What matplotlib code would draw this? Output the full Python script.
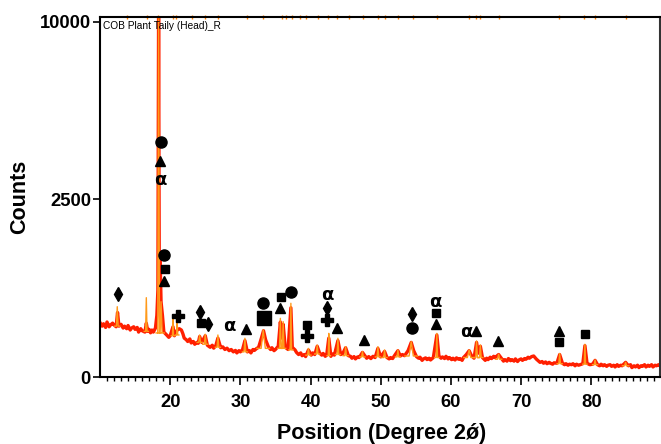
import matplotlib
matplotlib.use("Agg")
import matplotlib.pyplot as plt
import numpy as np

plt.rcParams["font.family"] = ["Liberation Sans", "DejaVu Sans"]

# measured pattern (2theta, counts)
two_theta = [
    10.0, 10.3, 10.5, 10.8, 11.0, 11.3, 11.5, 11.8, 12.0, 12.3, 12.5, 12.7,
    13.0, 13.3, 13.5, 13.8, 14.0, 14.3, 14.5, 14.8, 15.0, 15.3, 15.5, 15.8,
    16.0, 16.4, 16.6, 16.8, 17.0, 17.2, 17.4, 17.6, 17.9, 18.1, 18.25, 18.35,
    18.45, 18.55, 18.7, 18.9, 19.1, 19.3, 19.5, 19.8, 20.0, 20.4, 20.6, 21.0,
    21.3, 21.6, 21.8, 22.0, 22.3, 22.5, 22.8, 23.0, 23.3, 23.5, 23.8, 24.0,
    24.2, 24.5, 25.0, 25.3, 25.7, 26.0, 26.2, 26.5, 26.8, 27.2, 27.5, 27.8,
    28.1, 28.4, 28.7, 29.0, 29.3, 29.5, 29.8, 30.0, 30.3, 30.65, 31.0, 31.3,
    31.5, 31.8, 32.0, 32.3, 32.6, 33.0, 33.3, 33.6, 34.0, 34.3, 34.5, 34.8,
    35.0, 35.4, 35.7, 35.9, 36.1, 36.4, 36.8, 37.2, 37.4, 37.8, 38.0, 38.3,
    38.6, 38.8, 39.1, 39.3, 39.7, 40.1, 40.3, 40.6, 40.95, 41.3, 41.6, 41.8,
    42.1, 42.3, 42.6, 42.9, 43.1, 43.4, 43.9, 44.3, 44.6, 45.0, 45.4, 45.7,
    45.9, 46.2, 46.4, 46.7, 46.9, 47.1, 47.4, 47.8, 48.0, 48.3, 48.6, 48.9,
    49.2, 49.6, 50.0, 50.55, 50.9, 51.2, 51.4, 51.7, 51.9, 52.45, 52.8, 53.1,
    53.4, 53.9, 54.35, 54.7, 55.1, 55.4, 55.6, 55.9, 56.1, 56.4, 56.6, 56.9,
    57.1, 57.5, 58.0, 58.3, 58.6, 58.8, 59.1, 59.3, 59.6, 59.8, 60.1, 60.3,
    60.6, 60.8, 61.1, 61.3, 61.6, 61.8, 62.2, 62.6, 62.9, 63.3, 63.66, 63.9,
    64.2, 64.5, 64.9, 65.1, 65.3, 65.6, 65.8, 66.1, 66.3, 66.8, 67.2, 67.5,
    67.7, 68.0, 68.2, 68.5, 68.7, 69.0, 69.2, 69.5, 69.7, 70.0, 70.2, 70.5,
    70.7, 71.0, 71.2, 71.5, 71.8, 72.2, 72.5, 72.7, 73.0, 73.2, 73.5, 73.7,
    74.0, 74.2, 74.5, 74.7, 75.1, 75.5, 75.9, 76.2, 76.4, 76.7, 76.9, 77.2,
    77.4, 77.7, 77.9, 78.2, 78.4, 78.8, 79.1, 79.4, 79.8, 80.2, 80.55, 80.9,
    81.2, 81.4, 81.7, 81.9, 82.2, 82.4, 82.7, 82.9, 83.2, 83.4, 83.7, 83.9,
    84.2, 84.4, 84.9, 85.3, 85.6, 85.8, 86.1, 86.3, 86.6, 86.8, 87.1, 87.3,
    87.6, 87.8, 88.1, 88.3, 88.6, 88.8, 89.1, 89.3, 89.6, 89.8,
]
counts = [
    235, 205, 225, 195, 240, 200, 215, 230, 215, 200, 330, 205,
    220, 190, 205, 185, 210, 175, 190, 200, 180, 195, 160, 185,
    170, 160, 230, 165, 180, 155, 175, 160, 190, 300, 600, 11000,
    700, 1200, 450, 300, 160, 150, 140, 125, 135, 200, 135, 175,
    185, 175, 150, 120, 110, 100, 115, 92, 100, 85, 95, 90,
    130, 95, 135, 80, 70, 80, 66, 78, 120, 68, 72, 60,
    66, 55, 60, 50, 56, 46, 55, 50, 58, 105, 50, 55,
    46, 60, 56, 64, 70, 120, 170, 110, 72, 60, 68, 55,
    60, 75, 240, 120, 220, 70, 60, 380, 70, 58, 48, 40,
    46, 36, 40, 33, 58, 38, 46, 40, 75, 45, 38, 44,
    34, 38, 120, 34, 42, 38, 105, 40, 44, 68, 36, 34,
    28, 33, 26, 32, 30, 36, 48, 34, 28, 33, 27, 34,
    30, 65, 32, 52, 30, 26, 30, 27, 34, 55, 35, 40,
    36, 55, 95, 55, 33, 28, 31, 22, 26, 29, 24, 28,
    23, 30, 140, 35, 28, 32, 27, 34, 26, 30, 24, 28,
    23, 29, 25, 27, 22, 30, 40, 55, 38, 28, 95, 45,
    75, 30, 22, 28, 24, 31, 27, 34, 30, 40, 28, 20,
    24, 20, 27, 21, 24, 20, 26, 19, 23, 26, 22, 27,
    25, 31, 28, 33, 35, 25, 20, 17, 19, 15, 18, 14,
    17, 15, 13, 16, 15, 40, 15, 12, 14, 11, 13, 12,
    14, 10, 13, 11, 12, 14, 78, 15, 12, 13, 22, 12,
    10, 13, 10, 12, 9, 11, 12, 9, 11, 8, 12, 9,
    11, 10, 17, 10, 12, 7, 10, 8, 11, 7, 10, 9,
    12, 8, 11, 9, 12, 8, 11, 10, 12, 10,
]

# fitted peak profile (orange)
peak_pos = [12.46, 16.6, 18.35, 18.7, 20.4, 21.0, 24.2, 25.0, 26.8, 30.65,
            33.26, 35.7, 36.1, 37.2, 39.7, 40.95, 42.6, 43.9, 45.0, 47.4,
            49.6, 50.55, 52.45, 54.35, 58.0, 62.6, 63.66, 64.2, 66.8, 75.5,
            79.1, 80.55, 84.9]
peak_top = [392, 499, 11000, 450, 288, 231, 140, 145, 140, 119,
            175, 273, 243, 431, 65, 81, 151, 119, 73, 51,
            73, 58, 58, 99, 151, 58, 103, 81, 41, 44,
            85, 23, 17]
peak_base = [205, 165, 154, 154, 135, 140, 95, 85, 70, 50,
             65, 65, 65, 58, 38, 42, 36, 40, 36, 32,
             32, 30, 32, 35, 30, 30, 30, 30, 25, 14,
             13, 12, 10]
peak_width = [0.12, 0.1, 0.12, 0.15, 0.08, 0.08, 0.12, 0.12, 0.12, 0.12,
              0.3, 0.12, 0.12, 0.1, 0.12, 0.12, 0.08, 0.12, 0.12, 0.12,
              0.12, 0.12, 0.12, 0.3, 0.1, 0.25, 0.12, 0.12, 0.15, 0.12,
              0.1, 0.12, 0.15]

# reference line positions on top axis
ref_ticks = [13.8, 16.65, 18.26, 20.4, 20.9, 23.06, 24.96, 26.8, 30.9, 33.2,
             36.0, 36.5, 37.3, 38.5, 39.4, 41.05, 42.5, 43.8, 45.5, 47.5,
             49.6, 50.6, 52.4, 54.6, 58.05, 62.6, 63.6, 64.2, 66.9, 75.4,
             79.0, 80.6, 85.0]

# phase symbols (marker, 2theta, counts)
phase_marks = [
    ("o", 18.65, 4393), ("^", 18.55, 3712),
    ("o", 19.12, 1175), ("s", 19.26, 920), ("^", 19.16, 736),
    ("d", 12.52, 543), ("P", 21.16, 292),
    ("d", 24.25, 335), ("s", 24.39, 234), ("d", 25.43, 220),
    ("^", 30.8, 185),
    ("o", 33.18, 431), ("S", 33.4, 279),
    ("s", 35.78, 508), ("^", 35.64, 378), ("o", 37.17, 573),
    ("s", 39.44, 217), ("P", 39.44, 131),
    ("d", 42.38, 374), ("P", 42.38, 258), ("^", 43.8, 193),
    ("^", 47.6, 109),
    ("d", 54.4, 312), ("o", 54.49, 188),
    ("s", 57.86, 328), ("^", 57.82, 220),
    ("^", 63.56, 168), ("^", 66.65, 103),
    ("^", 75.38, 170), ("s", 75.47, 97), ("s", 79.09, 147),
]
alpha_marks = [(18.55, 3079), (28.42, 204), (42.38, 534), (57.82, 450), (62.24, 159)]

marker_size = {"o": 8, "^": 7.5, "s": 5.5, "S": 9.5, "d": 7.5, "P": 8}

red = "#ff1f00"
orange = "#ff9a1a"


def sqrt_fwd(v):
    return np.sqrt(np.clip(v, 0, None))


def sqrt_inv(v):
    return np.asarray(v) ** 2


fig = plt.figure(figsize=(6.61, 4.44), dpi=100)
ax = fig.add_axes([100 / 661, 1 - 377 / 444, 560 / 661, 360 / 444])
ax.set_yscale("function", functions=(sqrt_fwd, sqrt_inv))

ax.plot(two_theta, counts, color=red, lw=2.4, solid_joinstyle="round")

# orange profile: one small triangle with flat feet per peak
ox, oy = [], []
for p, t, b, w in zip(peak_pos, peak_top, peak_base, peak_width):
    ox += [p - 3 * w, p - w, p, p + w, p + 3 * w, np.nan]
    oy += [b, b, t, b, b, np.nan]
ax.plot(ox, oy, color=orange, lw=1.0)

ax.plot(ref_ticks, [1.0] * len(ref_ticks), transform=ax.get_xaxis_transform(),
        ls="none", marker="|", ms=3, mew=1, color="#ff7f00", clip_on=False)

for m, x, y in phase_marks:
    ax.plot(x, y, ls="none", marker="s" if m == "S" else m, ms=marker_size[m],
            color="black", mec="black", clip_on=False)
for x, y in alpha_marks:
    ax.text(x, y, "α", ha="center", va="center", fontsize=13,
            fontweight="bold", family=["DejaVu Sans"])

ax.set_xlim(10, 89.8)
ax.set_ylim(0, 10280)
ax.set_xticks([20, 30, 40, 50, 60, 70, 80])
ax.set_xticks(np.arange(11, 90), minor=True)
ax.set_yticks([0, 2500, 10000])
ax.set_yticks([], minor=True)

for lab in ax.get_xticklabels() + ax.get_yticklabels():
    lab.set_fontweight("bold")
ax.tick_params(axis="both", which="major", labelsize=13.2, width=1.2,
               direction="out")
ax.tick_params(axis="x", which="major", length=5.5, pad=6.5)
ax.tick_params(axis="y", which="major", length=5, pad=1.5)
ax.tick_params(axis="x", which="minor", length=3, width=1.0, direction="out")
for s in ax.spines.values():
    s.set_linewidth(1.5)
ax.spines["right"].set_color("#333333")

ax.text(0.005, 0.99, "COB Plant Taily (Head)_R", transform=ax.transAxes,
        ha="left", va="top", fontsize=7.3)

fig.text(20 / 661, 1 - 197 / 444, "Counts", rotation=90, ha="center",
         va="center", fontsize=15.5, fontweight="bold")
fig.text(382 / 661, 1 - 433 / 444, "Position (Degree 2ǿ)", ha="center",
         va="center", fontsize=15.5, fontweight="bold")

fig.savefig("out.png", dpi=100)
plt.close(fig)
